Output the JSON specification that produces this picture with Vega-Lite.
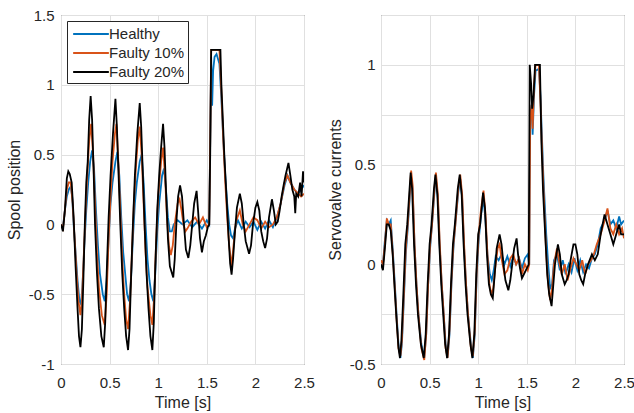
{
"$schema": "https://vega.github.io/schema/vega-lite/v6.json",
"padding": {"left": 5, "top": 7, "right": 5, "bottom": 5},
"background": "white",
"bounds": "flush",
"spacing": 77,
"config": {
  "font": "Liberation Sans",
  "view": {"stroke": "#404040", "strokeWidth": 1},
  "axis": {"grid": true, "gridColor": "#e0e0e0", "gridWidth": 1, "domain": false, "ticks": false, "labelFlush": false, "labelOverlap": false, "labelFont": "Liberation Sans", "labelFontSize": 15, "labelColor": "#262626", "titleFont": "Liberation Sans", "titleFontSize": 16, "titleFontWeight": "normal", "titleColor": "#262626"}
},
"resolve": {"scale": {"y": "independent", "color": "shared"}},
"datasets": {
"spool": [
{"s":"Healthy","t":0,"v":0},{"s":"Healthy","t":0.02,"v":-0.02},{"s":"Healthy","t":0.04,"v":0.1},{"s":"Healthy","t":0.06,"v":0.2},{"s":"Healthy","t":0.08,"v":0.25},{"s":"Healthy","t":0.1,"v":0.27},{"s":"Healthy","t":0.115,"v":0.2},{"s":"Healthy","t":0.13,"v":0},{"s":"Healthy","t":0.15,"v":-0.2},{"s":"Healthy","t":0.17,"v":-0.4},{"s":"Healthy","t":0.19,"v":-0.55},{"s":"Healthy","t":0.205,"v":-0.57},{"s":"Healthy","t":0.22,"v":-0.45},{"s":"Healthy","t":0.24,"v":-0.15},{"s":"Healthy","t":0.26,"v":0.1},{"s":"Healthy","t":0.28,"v":0.3},{"s":"Healthy","t":0.3,"v":0.45},{"s":"Healthy","t":0.32,"v":0.53},{"s":"Healthy","t":0.34,"v":0.4},{"s":"Healthy","t":0.36,"v":0.1},{"s":"Healthy","t":0.38,"v":-0.15},{"s":"Healthy","t":0.4,"v":-0.35},{"s":"Healthy","t":0.43,"v":-0.5},{"s":"Healthy","t":0.45,"v":-0.55},{"s":"Healthy","t":0.47,"v":-0.4},{"s":"Healthy","t":0.49,"v":-0.1},{"s":"Healthy","t":0.51,"v":0.15},{"s":"Healthy","t":0.53,"v":0.3},{"s":"Healthy","t":0.56,"v":0.45},{"s":"Healthy","t":0.58,"v":0.52},{"s":"Healthy","t":0.6,"v":0.35},{"s":"Healthy","t":0.62,"v":0.05},{"s":"Healthy","t":0.64,"v":-0.2},{"s":"Healthy","t":0.66,"v":-0.35},{"s":"Healthy","t":0.68,"v":-0.5},{"s":"Healthy","t":0.7,"v":-0.55},{"s":"Healthy","t":0.72,"v":-0.4},{"s":"Healthy","t":0.74,"v":-0.1},{"s":"Healthy","t":0.76,"v":0.15},{"s":"Healthy","t":0.78,"v":0.3},{"s":"Healthy","t":0.81,"v":0.45},{"s":"Healthy","t":0.83,"v":0.5},{"s":"Healthy","t":0.85,"v":0.3},{"s":"Healthy","t":0.87,"v":0},{"s":"Healthy","t":0.89,"v":-0.25},{"s":"Healthy","t":0.91,"v":-0.4},{"s":"Healthy","t":0.93,"v":-0.5},{"s":"Healthy","t":0.95,"v":-0.55},{"s":"Healthy","t":0.97,"v":-0.35},{"s":"Healthy","t":0.99,"v":-0.05},{"s":"Healthy","t":1.01,"v":0.15},{"s":"Healthy","t":1.04,"v":0.35},{"s":"Healthy","t":1.06,"v":0.4},{"s":"Healthy","t":1.08,"v":0.25},{"s":"Healthy","t":1.1,"v":0.05},{"s":"Healthy","t":1.12,"v":-0.05},{"s":"Healthy","t":1.14,"v":-0.05},{"s":"Healthy","t":1.16,"v":0},{"s":"Healthy","t":1.2,"v":0.03},{"s":"Healthy","t":1.25,"v":0},{"s":"Healthy","t":1.3,"v":0.03},{"s":"Healthy","t":1.35,"v":-0.02},{"s":"Healthy","t":1.4,"v":0.02},{"s":"Healthy","t":1.45,"v":-0.03},{"s":"Healthy","t":1.5,"v":0.03},{"s":"Healthy","t":1.525,"v":0},{"s":"Healthy","t":1.535,"v":0.6},{"s":"Healthy","t":1.545,"v":1.2},{"s":"Healthy","t":1.555,"v":0.85},{"s":"Healthy","t":1.565,"v":1.1},{"s":"Healthy","t":1.58,"v":1.2},{"s":"Healthy","t":1.6,"v":1.22},{"s":"Healthy","t":1.63,"v":1.15},{"s":"Healthy","t":1.65,"v":0.9},{"s":"Healthy","t":1.67,"v":0.6},{"s":"Healthy","t":1.69,"v":0.35},{"s":"Healthy","t":1.71,"v":0.15},{"s":"Healthy","t":1.73,"v":0},{"s":"Healthy","t":1.75,"v":-0.08},{"s":"Healthy","t":1.77,"v":-0.1},{"s":"Healthy","t":1.79,"v":-0.03},{"s":"Healthy","t":1.82,"v":0.03},{"s":"Healthy","t":1.86,"v":-0.03},{"s":"Healthy","t":1.9,"v":0.02},{"s":"Healthy","t":1.94,"v":-0.02},{"s":"Healthy","t":1.98,"v":0.02},{"s":"Healthy","t":2.02,"v":-0.04},{"s":"Healthy","t":2.06,"v":0.02},{"s":"Healthy","t":2.1,"v":-0.03},{"s":"Healthy","t":2.14,"v":0.03},{"s":"Healthy","t":2.18,"v":-0.02},{"s":"Healthy","t":2.22,"v":0.05},{"s":"Healthy","t":2.26,"v":0.15},{"s":"Healthy","t":2.3,"v":0.28},{"s":"Healthy","t":2.33,"v":0.35},{"s":"Healthy","t":2.36,"v":0.3},{"s":"Healthy","t":2.4,"v":0.25},{"s":"Healthy","t":2.44,"v":0.22},{"s":"Healthy","t":2.47,"v":0.25},{"s":"Healthy","t":2.5,"v":0.28},
{"s":"Faulty 10%","t":0,"v":0},{"s":"Faulty 10%","t":0.02,"v":-0.03},{"s":"Faulty 10%","t":0.04,"v":0.1},{"s":"Faulty 10%","t":0.06,"v":0.25},{"s":"Faulty 10%","t":0.08,"v":0.3},{"s":"Faulty 10%","t":0.1,"v":0.3},{"s":"Faulty 10%","t":0.12,"v":0.15},{"s":"Faulty 10%","t":0.14,"v":-0.1},{"s":"Faulty 10%","t":0.16,"v":-0.35},{"s":"Faulty 10%","t":0.18,"v":-0.55},{"s":"Faulty 10%","t":0.2,"v":-0.65},{"s":"Faulty 10%","t":0.215,"v":-0.55},{"s":"Faulty 10%","t":0.23,"v":-0.3},{"s":"Faulty 10%","t":0.25,"v":0.05},{"s":"Faulty 10%","t":0.27,"v":0.35},{"s":"Faulty 10%","t":0.29,"v":0.6},{"s":"Faulty 10%","t":0.31,"v":0.72},{"s":"Faulty 10%","t":0.33,"v":0.5},{"s":"Faulty 10%","t":0.35,"v":0.15},{"s":"Faulty 10%","t":0.37,"v":-0.2},{"s":"Faulty 10%","t":0.39,"v":-0.45},{"s":"Faulty 10%","t":0.42,"v":-0.65},{"s":"Faulty 10%","t":0.45,"v":-0.72},{"s":"Faulty 10%","t":0.47,"v":-0.5},{"s":"Faulty 10%","t":0.49,"v":-0.1},{"s":"Faulty 10%","t":0.51,"v":0.2},{"s":"Faulty 10%","t":0.53,"v":0.45},{"s":"Faulty 10%","t":0.555,"v":0.65},{"s":"Faulty 10%","t":0.57,"v":0.72},{"s":"Faulty 10%","t":0.59,"v":0.45},{"s":"Faulty 10%","t":0.61,"v":0.1},{"s":"Faulty 10%","t":0.63,"v":-0.25},{"s":"Faulty 10%","t":0.65,"v":-0.5},{"s":"Faulty 10%","t":0.67,"v":-0.68},{"s":"Faulty 10%","t":0.69,"v":-0.75},{"s":"Faulty 10%","t":0.71,"v":-0.55},{"s":"Faulty 10%","t":0.73,"v":-0.2},{"s":"Faulty 10%","t":0.75,"v":0.15},{"s":"Faulty 10%","t":0.77,"v":0.4},{"s":"Faulty 10%","t":0.79,"v":0.6},{"s":"Faulty 10%","t":0.81,"v":0.7},{"s":"Faulty 10%","t":0.83,"v":0.5},{"s":"Faulty 10%","t":0.85,"v":0.15},{"s":"Faulty 10%","t":0.87,"v":-0.2},{"s":"Faulty 10%","t":0.89,"v":-0.45},{"s":"Faulty 10%","t":0.92,"v":-0.65},{"s":"Faulty 10%","t":0.94,"v":-0.72},{"s":"Faulty 10%","t":0.96,"v":-0.5},{"s":"Faulty 10%","t":0.98,"v":-0.1},{"s":"Faulty 10%","t":1.0,"v":0.2},{"s":"Faulty 10%","t":1.03,"v":0.45},{"s":"Faulty 10%","t":1.05,"v":0.55},{"s":"Faulty 10%","t":1.07,"v":0.35},{"s":"Faulty 10%","t":1.09,"v":0.05},{"s":"Faulty 10%","t":1.11,"v":-0.15},{"s":"Faulty 10%","t":1.13,"v":-0.22},{"s":"Faulty 10%","t":1.15,"v":-0.15},{"s":"Faulty 10%","t":1.17,"v":0},{"s":"Faulty 10%","t":1.2,"v":0.15},{"s":"Faulty 10%","t":1.22,"v":0.18},{"s":"Faulty 10%","t":1.24,"v":0.1},{"s":"Faulty 10%","t":1.26,"v":0},{"s":"Faulty 10%","t":1.28,"v":-0.05},{"s":"Faulty 10%","t":1.3,"v":-0.03},{"s":"Faulty 10%","t":1.34,"v":0.02},{"s":"Faulty 10%","t":1.38,"v":0.05},{"s":"Faulty 10%","t":1.42,"v":0},{"s":"Faulty 10%","t":1.46,"v":0.05},{"s":"Faulty 10%","t":1.5,"v":-0.02},{"s":"Faulty 10%","t":1.525,"v":0},{"s":"Faulty 10%","t":1.535,"v":0.6},{"s":"Faulty 10%","t":1.545,"v":1.25},{"s":"Faulty 10%","t":1.63,"v":1.25},{"s":"Faulty 10%","t":1.65,"v":0.95},{"s":"Faulty 10%","t":1.67,"v":0.6},{"s":"Faulty 10%","t":1.69,"v":0.3},{"s":"Faulty 10%","t":1.71,"v":0.05},{"s":"Faulty 10%","t":1.73,"v":-0.15},{"s":"Faulty 10%","t":1.755,"v":-0.3},{"s":"Faulty 10%","t":1.775,"v":-0.15},{"s":"Faulty 10%","t":1.8,"v":0.02},{"s":"Faulty 10%","t":1.84,"v":0.1},{"s":"Faulty 10%","t":1.87,"v":0},{"s":"Faulty 10%","t":1.9,"v":-0.05},{"s":"Faulty 10%","t":1.94,"v":0},{"s":"Faulty 10%","t":1.98,"v":0.05},{"s":"Faulty 10%","t":2.02,"v":0.03},{"s":"Faulty 10%","t":2.06,"v":-0.03},{"s":"Faulty 10%","t":2.1,"v":0.02},{"s":"Faulty 10%","t":2.14,"v":-0.02},{"s":"Faulty 10%","t":2.18,"v":0},{"s":"Faulty 10%","t":2.22,"v":0.05},{"s":"Faulty 10%","t":2.26,"v":0.15},{"s":"Faulty 10%","t":2.3,"v":0.3},{"s":"Faulty 10%","t":2.33,"v":0.35},{"s":"Faulty 10%","t":2.36,"v":0.3},{"s":"Faulty 10%","t":2.4,"v":0.25},{"s":"Faulty 10%","t":2.44,"v":0.22},{"s":"Faulty 10%","t":2.47,"v":0.2},{"s":"Faulty 10%","t":2.5,"v":0.22},
{"s":"Faulty 20%","t":0,"v":0},{"s":"Faulty 20%","t":0.02,"v":-0.05},{"s":"Faulty 20%","t":0.04,"v":0.1},{"s":"Faulty 20%","t":0.06,"v":0.33},{"s":"Faulty 20%","t":0.075,"v":0.38},{"s":"Faulty 20%","t":0.09,"v":0.36},{"s":"Faulty 20%","t":0.11,"v":0.3},{"s":"Faulty 20%","t":0.13,"v":0.05},{"s":"Faulty 20%","t":0.15,"v":-0.3},{"s":"Faulty 20%","t":0.17,"v":-0.6},{"s":"Faulty 20%","t":0.185,"v":-0.8},{"s":"Faulty 20%","t":0.2,"v":-0.88},{"s":"Faulty 20%","t":0.215,"v":-0.75},{"s":"Faulty 20%","t":0.23,"v":-0.4},{"s":"Faulty 20%","t":0.245,"v":0},{"s":"Faulty 20%","t":0.26,"v":0.3},{"s":"Faulty 20%","t":0.275,"v":0.45},{"s":"Faulty 20%","t":0.29,"v":0.75},{"s":"Faulty 20%","t":0.305,"v":0.92},{"s":"Faulty 20%","t":0.32,"v":0.75},{"s":"Faulty 20%","t":0.335,"v":0.4},{"s":"Faulty 20%","t":0.35,"v":0},{"s":"Faulty 20%","t":0.37,"v":-0.35},{"s":"Faulty 20%","t":0.39,"v":-0.6},{"s":"Faulty 20%","t":0.415,"v":-0.8},{"s":"Faulty 20%","t":0.44,"v":-0.88},{"s":"Faulty 20%","t":0.455,"v":-0.7},{"s":"Faulty 20%","t":0.47,"v":-0.35},{"s":"Faulty 20%","t":0.49,"v":0.05},{"s":"Faulty 20%","t":0.51,"v":0.35},{"s":"Faulty 20%","t":0.535,"v":0.65},{"s":"Faulty 20%","t":0.56,"v":0.9},{"s":"Faulty 20%","t":0.575,"v":0.7},{"s":"Faulty 20%","t":0.59,"v":0.4},{"s":"Faulty 20%","t":0.61,"v":0},{"s":"Faulty 20%","t":0.63,"v":-0.35},{"s":"Faulty 20%","t":0.65,"v":-0.6},{"s":"Faulty 20%","t":0.67,"v":-0.8},{"s":"Faulty 20%","t":0.69,"v":-0.9},{"s":"Faulty 20%","t":0.705,"v":-0.75},{"s":"Faulty 20%","t":0.72,"v":-0.4},{"s":"Faulty 20%","t":0.74,"v":0},{"s":"Faulty 20%","t":0.76,"v":0.35},{"s":"Faulty 20%","t":0.785,"v":0.65},{"s":"Faulty 20%","t":0.81,"v":0.87},{"s":"Faulty 20%","t":0.825,"v":0.7},{"s":"Faulty 20%","t":0.84,"v":0.4},{"s":"Faulty 20%","t":0.86,"v":0},{"s":"Faulty 20%","t":0.88,"v":-0.35},{"s":"Faulty 20%","t":0.9,"v":-0.6},{"s":"Faulty 20%","t":0.92,"v":-0.8},{"s":"Faulty 20%","t":0.94,"v":-0.9},{"s":"Faulty 20%","t":0.955,"v":-0.7},{"s":"Faulty 20%","t":0.97,"v":-0.3},{"s":"Faulty 20%","t":0.99,"v":0.1},{"s":"Faulty 20%","t":1.01,"v":0.35},{"s":"Faulty 20%","t":1.03,"v":0.55},{"s":"Faulty 20%","t":1.05,"v":0.72},{"s":"Faulty 20%","t":1.065,"v":0.55},{"s":"Faulty 20%","t":1.08,"v":0.25},{"s":"Faulty 20%","t":1.1,"v":-0.1},{"s":"Faulty 20%","t":1.12,"v":-0.3},{"s":"Faulty 20%","t":1.155,"v":-0.38},{"s":"Faulty 20%","t":1.17,"v":-0.25},{"s":"Faulty 20%","t":1.19,"v":0.05},{"s":"Faulty 20%","t":1.205,"v":0.2},{"s":"Faulty 20%","t":1.225,"v":0.28},{"s":"Faulty 20%","t":1.245,"v":0.2},{"s":"Faulty 20%","t":1.265,"v":0},{"s":"Faulty 20%","t":1.285,"v":-0.18},{"s":"Faulty 20%","t":1.31,"v":-0.24},{"s":"Faulty 20%","t":1.33,"v":-0.15},{"s":"Faulty 20%","t":1.35,"v":0},{"s":"Faulty 20%","t":1.37,"v":0.15},{"s":"Faulty 20%","t":1.395,"v":0.24},{"s":"Faulty 20%","t":1.41,"v":0.1},{"s":"Faulty 20%","t":1.43,"v":-0.1},{"s":"Faulty 20%","t":1.45,"v":-0.2},{"s":"Faulty 20%","t":1.47,"v":-0.12},{"s":"Faulty 20%","t":1.49,"v":-0.08},{"s":"Faulty 20%","t":1.51,"v":-0.02},{"s":"Faulty 20%","t":1.525,"v":0},{"s":"Faulty 20%","t":1.535,"v":0.5},{"s":"Faulty 20%","t":1.545,"v":1.25},{"s":"Faulty 20%","t":1.64,"v":1.25},{"s":"Faulty 20%","t":1.65,"v":1.0},{"s":"Faulty 20%","t":1.665,"v":0.75},{"s":"Faulty 20%","t":1.68,"v":0.5},{"s":"Faulty 20%","t":1.695,"v":0.3},{"s":"Faulty 20%","t":1.71,"v":0.1},{"s":"Faulty 20%","t":1.725,"v":-0.1},{"s":"Faulty 20%","t":1.74,"v":-0.28},{"s":"Faulty 20%","t":1.755,"v":-0.36},{"s":"Faulty 20%","t":1.77,"v":-0.25},{"s":"Faulty 20%","t":1.79,"v":-0.05},{"s":"Faulty 20%","t":1.81,"v":0.12},{"s":"Faulty 20%","t":1.84,"v":0.22},{"s":"Faulty 20%","t":1.86,"v":0.15},{"s":"Faulty 20%","t":1.88,"v":0},{"s":"Faulty 20%","t":1.9,"v":-0.12},{"s":"Faulty 20%","t":1.935,"v":-0.21},{"s":"Faulty 20%","t":1.955,"v":-0.15},{"s":"Faulty 20%","t":1.975,"v":0},{"s":"Faulty 20%","t":2.0,"v":0.12},{"s":"Faulty 20%","t":2.02,"v":0.16},{"s":"Faulty 20%","t":2.04,"v":0.1},{"s":"Faulty 20%","t":2.06,"v":-0.05},{"s":"Faulty 20%","t":2.08,"v":-0.12},{"s":"Faulty 20%","t":2.1,"v":-0.17},{"s":"Faulty 20%","t":2.12,"v":-0.1},{"s":"Faulty 20%","t":2.14,"v":0.05},{"s":"Faulty 20%","t":2.17,"v":0.18},{"s":"Faulty 20%","t":2.19,"v":0.1},{"s":"Faulty 20%","t":2.21,"v":0},{"s":"Faulty 20%","t":2.23,"v":0.02},{"s":"Faulty 20%","t":2.25,"v":0.1},{"s":"Faulty 20%","t":2.27,"v":0.2},{"s":"Faulty 20%","t":2.29,"v":0.28},{"s":"Faulty 20%","t":2.31,"v":0.35},{"s":"Faulty 20%","t":2.34,"v":0.44},{"s":"Faulty 20%","t":2.36,"v":0.35},{"s":"Faulty 20%","t":2.38,"v":0.25},{"s":"Faulty 20%","t":2.4,"v":0.2},{"s":"Faulty 20%","t":2.41,"v":0.08},{"s":"Faulty 20%","t":2.42,"v":0.22},{"s":"Faulty 20%","t":2.44,"v":0.2},{"s":"Faulty 20%","t":2.46,"v":0.3},{"s":"Faulty 20%","t":2.475,"v":0.2},{"s":"Faulty 20%","t":2.49,"v":0.38},{"s":"Faulty 20%","t":2.5,"v":0.3}
],
"current": [
{"s":"Healthy","t":0,"v":0.02},{"s":"Healthy","t":0.02,"v":0},{"s":"Healthy","t":0.04,"v":0.12},{"s":"Healthy","t":0.06,"v":0.22},{"s":"Healthy","t":0.08,"v":0.2},{"s":"Healthy","t":0.1,"v":0.22},{"s":"Healthy","t":0.12,"v":0.08},{"s":"Healthy","t":0.14,"v":-0.08},{"s":"Healthy","t":0.16,"v":-0.25},{"s":"Healthy","t":0.18,"v":-0.4},{"s":"Healthy","t":0.2,"v":-0.47},{"s":"Healthy","t":0.215,"v":-0.4},{"s":"Healthy","t":0.235,"v":-0.18},{"s":"Healthy","t":0.255,"v":0.05},{"s":"Healthy","t":0.275,"v":0.18},{"s":"Healthy","t":0.295,"v":0.33},{"s":"Healthy","t":0.31,"v":0.44},{"s":"Healthy","t":0.325,"v":0.38},{"s":"Healthy","t":0.345,"v":0.1},{"s":"Healthy","t":0.365,"v":-0.1},{"s":"Healthy","t":0.385,"v":-0.25},{"s":"Healthy","t":0.415,"v":-0.4},{"s":"Healthy","t":0.445,"v":-0.47},{"s":"Healthy","t":0.465,"v":-0.35},{"s":"Healthy","t":0.485,"v":-0.1},{"s":"Healthy","t":0.505,"v":0.08},{"s":"Healthy","t":0.525,"v":0.2},{"s":"Healthy","t":0.55,"v":0.36},{"s":"Healthy","t":0.565,"v":0.44},{"s":"Healthy","t":0.585,"v":0.33},{"s":"Healthy","t":0.605,"v":0.08},{"s":"Healthy","t":0.625,"v":-0.1},{"s":"Healthy","t":0.645,"v":-0.25},{"s":"Healthy","t":0.665,"v":-0.4},{"s":"Healthy","t":0.685,"v":-0.47},{"s":"Healthy","t":0.705,"v":-0.35},{"s":"Healthy","t":0.725,"v":-0.1},{"s":"Healthy","t":0.745,"v":0.08},{"s":"Healthy","t":0.765,"v":0.2},{"s":"Healthy","t":0.795,"v":0.36},{"s":"Healthy","t":0.815,"v":0.43},{"s":"Healthy","t":0.835,"v":0.33},{"s":"Healthy","t":0.855,"v":0.08},{"s":"Healthy","t":0.875,"v":-0.1},{"s":"Healthy","t":0.895,"v":-0.25},{"s":"Healthy","t":0.925,"v":-0.4},{"s":"Healthy","t":0.945,"v":-0.47},{"s":"Healthy","t":0.965,"v":-0.35},{"s":"Healthy","t":0.985,"v":-0.05},{"s":"Healthy","t":1.005,"v":0.12},{"s":"Healthy","t":1.03,"v":0.25},{"s":"Healthy","t":1.055,"v":0.33},{"s":"Healthy","t":1.075,"v":0.22},{"s":"Healthy","t":1.095,"v":0.05},{"s":"Healthy","t":1.12,"v":-0.05},{"s":"Healthy","t":1.14,"v":-0.08},{"s":"Healthy","t":1.16,"v":-0.03},{"s":"Healthy","t":1.18,"v":0.04},{"s":"Healthy","t":1.21,"v":0.02},{"s":"Healthy","t":1.24,"v":0.05},{"s":"Healthy","t":1.27,"v":0},{"s":"Healthy","t":1.3,"v":0.04},{"s":"Healthy","t":1.33,"v":-0.01},{"s":"Healthy","t":1.36,"v":0.04},{"s":"Healthy","t":1.39,"v":0},{"s":"Healthy","t":1.42,"v":0.03},{"s":"Healthy","t":1.45,"v":-0.02},{"s":"Healthy","t":1.48,"v":0.03},{"s":"Healthy","t":1.51,"v":0.05},{"s":"Healthy","t":1.525,"v":0},{"s":"Healthy","t":1.535,"v":0.75},{"s":"Healthy","t":1.55,"v":0.8},{"s":"Healthy","t":1.56,"v":0.65},{"s":"Healthy","t":1.575,"v":0.85},{"s":"Healthy","t":1.59,"v":0.97},{"s":"Healthy","t":1.625,"v":0.98},{"s":"Healthy","t":1.64,"v":0.85},{"s":"Healthy","t":1.655,"v":0.65},{"s":"Healthy","t":1.67,"v":0.45},{"s":"Healthy","t":1.685,"v":0.3},{"s":"Healthy","t":1.7,"v":0.15},{"s":"Healthy","t":1.72,"v":0},{"s":"Healthy","t":1.74,"v":-0.12},{"s":"Healthy","t":1.76,"v":-0.1},{"s":"Healthy","t":1.78,"v":0.02},{"s":"Healthy","t":1.81,"v":0.05},{"s":"Healthy","t":1.84,"v":-0.03},{"s":"Healthy","t":1.87,"v":0.02},{"s":"Healthy","t":1.9,"v":-0.05},{"s":"Healthy","t":1.93,"v":0},{"s":"Healthy","t":1.96,"v":-0.04},{"s":"Healthy","t":1.99,"v":0.03},{"s":"Healthy","t":2.02,"v":-0.03},{"s":"Healthy","t":2.05,"v":0.02},{"s":"Healthy","t":2.08,"v":-0.04},{"s":"Healthy","t":2.11,"v":0},{"s":"Healthy","t":2.14,"v":-0.02},{"s":"Healthy","t":2.17,"v":0.03},{"s":"Healthy","t":2.2,"v":0.05},{"s":"Healthy","t":2.23,"v":0.1},{"s":"Healthy","t":2.26,"v":0.18},{"s":"Healthy","t":2.3,"v":0.22},{"s":"Healthy","t":2.33,"v":0.27},{"s":"Healthy","t":2.36,"v":0.2},{"s":"Healthy","t":2.39,"v":0.22},{"s":"Healthy","t":2.42,"v":0.18},{"s":"Healthy","t":2.45,"v":0.24},{"s":"Healthy","t":2.47,"v":0.2},{"s":"Healthy","t":2.5,"v":0.22},
{"s":"Faulty 10%","t":0,"v":0.02},{"s":"Faulty 10%","t":0.02,"v":0},{"s":"Faulty 10%","t":0.04,"v":0.1},{"s":"Faulty 10%","t":0.06,"v":0.23},{"s":"Faulty 10%","t":0.08,"v":0.2},{"s":"Faulty 10%","t":0.1,"v":0.2},{"s":"Faulty 10%","t":0.12,"v":0.06},{"s":"Faulty 10%","t":0.14,"v":-0.1},{"s":"Faulty 10%","t":0.16,"v":-0.27},{"s":"Faulty 10%","t":0.18,"v":-0.42},{"s":"Faulty 10%","t":0.2,"v":-0.46},{"s":"Faulty 10%","t":0.215,"v":-0.38},{"s":"Faulty 10%","t":0.235,"v":-0.15},{"s":"Faulty 10%","t":0.255,"v":0.08},{"s":"Faulty 10%","t":0.275,"v":0.2},{"s":"Faulty 10%","t":0.295,"v":0.35},{"s":"Faulty 10%","t":0.31,"v":0.47},{"s":"Faulty 10%","t":0.325,"v":0.4},{"s":"Faulty 10%","t":0.345,"v":0.1},{"s":"Faulty 10%","t":0.365,"v":-0.1},{"s":"Faulty 10%","t":0.385,"v":-0.25},{"s":"Faulty 10%","t":0.415,"v":-0.42},{"s":"Faulty 10%","t":0.445,"v":-0.48},{"s":"Faulty 10%","t":0.465,"v":-0.35},{"s":"Faulty 10%","t":0.485,"v":-0.1},{"s":"Faulty 10%","t":0.505,"v":0.1},{"s":"Faulty 10%","t":0.525,"v":0.2},{"s":"Faulty 10%","t":0.55,"v":0.38},{"s":"Faulty 10%","t":0.565,"v":0.46},{"s":"Faulty 10%","t":0.585,"v":0.35},{"s":"Faulty 10%","t":0.605,"v":0.1},{"s":"Faulty 10%","t":0.625,"v":-0.1},{"s":"Faulty 10%","t":0.645,"v":-0.25},{"s":"Faulty 10%","t":0.665,"v":-0.42},{"s":"Faulty 10%","t":0.685,"v":-0.47},{"s":"Faulty 10%","t":0.705,"v":-0.33},{"s":"Faulty 10%","t":0.725,"v":-0.08},{"s":"Faulty 10%","t":0.745,"v":0.1},{"s":"Faulty 10%","t":0.765,"v":0.2},{"s":"Faulty 10%","t":0.795,"v":0.38},{"s":"Faulty 10%","t":0.815,"v":0.45},{"s":"Faulty 10%","t":0.835,"v":0.35},{"s":"Faulty 10%","t":0.855,"v":0.1},{"s":"Faulty 10%","t":0.875,"v":-0.1},{"s":"Faulty 10%","t":0.895,"v":-0.25},{"s":"Faulty 10%","t":0.925,"v":-0.42},{"s":"Faulty 10%","t":0.945,"v":-0.46},{"s":"Faulty 10%","t":0.965,"v":-0.33},{"s":"Faulty 10%","t":0.985,"v":-0.03},{"s":"Faulty 10%","t":1.005,"v":0.15},{"s":"Faulty 10%","t":1.03,"v":0.28},{"s":"Faulty 10%","t":1.055,"v":0.37},{"s":"Faulty 10%","t":1.075,"v":0.25},{"s":"Faulty 10%","t":1.095,"v":0.05},{"s":"Faulty 10%","t":1.115,"v":-0.1},{"s":"Faulty 10%","t":1.135,"v":-0.15},{"s":"Faulty 10%","t":1.155,"v":-0.12},{"s":"Faulty 10%","t":1.175,"v":-0.02},{"s":"Faulty 10%","t":1.2,"v":0.08},{"s":"Faulty 10%","t":1.22,"v":0.1},{"s":"Faulty 10%","t":1.24,"v":0.03},{"s":"Faulty 10%","t":1.27,"v":-0.05},{"s":"Faulty 10%","t":1.3,"v":-0.03},{"s":"Faulty 10%","t":1.33,"v":0.03},{"s":"Faulty 10%","t":1.36,"v":0.05},{"s":"Faulty 10%","t":1.39,"v":0},{"s":"Faulty 10%","t":1.42,"v":0.03},{"s":"Faulty 10%","t":1.45,"v":-0.05},{"s":"Faulty 10%","t":1.48,"v":0},{"s":"Faulty 10%","t":1.51,"v":-0.03},{"s":"Faulty 10%","t":1.525,"v":0},{"s":"Faulty 10%","t":1.535,"v":0.72},{"s":"Faulty 10%","t":1.55,"v":0.8},{"s":"Faulty 10%","t":1.56,"v":0.68},{"s":"Faulty 10%","t":1.575,"v":0.9},{"s":"Faulty 10%","t":1.59,"v":1.0},{"s":"Faulty 10%","t":1.625,"v":1.0},{"s":"Faulty 10%","t":1.64,"v":0.82},{"s":"Faulty 10%","t":1.655,"v":0.6},{"s":"Faulty 10%","t":1.67,"v":0.4},{"s":"Faulty 10%","t":1.685,"v":0.22},{"s":"Faulty 10%","t":1.7,"v":0.05},{"s":"Faulty 10%","t":1.72,"v":-0.1},{"s":"Faulty 10%","t":1.74,"v":-0.18},{"s":"Faulty 10%","t":1.76,"v":-0.12},{"s":"Faulty 10%","t":1.78,"v":0},{"s":"Faulty 10%","t":1.81,"v":0.08},{"s":"Faulty 10%","t":1.83,"v":0.02},{"s":"Faulty 10%","t":1.86,"v":-0.05},{"s":"Faulty 10%","t":1.89,"v":0},{"s":"Faulty 10%","t":1.92,"v":-0.08},{"s":"Faulty 10%","t":1.95,"v":-0.02},{"s":"Faulty 10%","t":1.98,"v":0.03},{"s":"Faulty 10%","t":2.01,"v":0},{"s":"Faulty 10%","t":2.04,"v":-0.03},{"s":"Faulty 10%","t":2.07,"v":0.02},{"s":"Faulty 10%","t":2.1,"v":-0.05},{"s":"Faulty 10%","t":2.13,"v":0},{"s":"Faulty 10%","t":2.16,"v":0.02},{"s":"Faulty 10%","t":2.19,"v":0.05},{"s":"Faulty 10%","t":2.22,"v":0.1},{"s":"Faulty 10%","t":2.26,"v":0.15},{"s":"Faulty 10%","t":2.3,"v":0.22},{"s":"Faulty 10%","t":2.33,"v":0.28},{"s":"Faulty 10%","t":2.36,"v":0.18},{"s":"Faulty 10%","t":2.39,"v":0.15},{"s":"Faulty 10%","t":2.42,"v":0.2},{"s":"Faulty 10%","t":2.45,"v":0.15},{"s":"Faulty 10%","t":2.48,"v":0.18},{"s":"Faulty 10%","t":2.5,"v":0.13},
{"s":"Faulty 20%","t":0,"v":0},{"s":"Faulty 20%","t":0.02,"v":-0.03},{"s":"Faulty 20%","t":0.04,"v":0.08},{"s":"Faulty 20%","t":0.06,"v":0.2},{"s":"Faulty 20%","t":0.08,"v":0.2},{"s":"Faulty 20%","t":0.1,"v":0.17},{"s":"Faulty 20%","t":0.12,"v":0.05},{"s":"Faulty 20%","t":0.14,"v":-0.12},{"s":"Faulty 20%","t":0.16,"v":-0.28},{"s":"Faulty 20%","t":0.18,"v":-0.42},{"s":"Faulty 20%","t":0.195,"v":-0.47},{"s":"Faulty 20%","t":0.21,"v":-0.38},{"s":"Faulty 20%","t":0.23,"v":-0.15},{"s":"Faulty 20%","t":0.25,"v":0.1},{"s":"Faulty 20%","t":0.27,"v":0.2},{"s":"Faulty 20%","t":0.29,"v":0.35},{"s":"Faulty 20%","t":0.305,"v":0.46},{"s":"Faulty 20%","t":0.32,"v":0.38},{"s":"Faulty 20%","t":0.34,"v":0.1},{"s":"Faulty 20%","t":0.36,"v":-0.1},{"s":"Faulty 20%","t":0.38,"v":-0.25},{"s":"Faulty 20%","t":0.41,"v":-0.4},{"s":"Faulty 20%","t":0.44,"v":-0.47},{"s":"Faulty 20%","t":0.46,"v":-0.35},{"s":"Faulty 20%","t":0.48,"v":-0.1},{"s":"Faulty 20%","t":0.5,"v":0.1},{"s":"Faulty 20%","t":0.52,"v":0.2},{"s":"Faulty 20%","t":0.545,"v":0.38},{"s":"Faulty 20%","t":0.56,"v":0.45},{"s":"Faulty 20%","t":0.58,"v":0.35},{"s":"Faulty 20%","t":0.6,"v":0.1},{"s":"Faulty 20%","t":0.62,"v":-0.1},{"s":"Faulty 20%","t":0.64,"v":-0.25},{"s":"Faulty 20%","t":0.66,"v":-0.4},{"s":"Faulty 20%","t":0.68,"v":-0.47},{"s":"Faulty 20%","t":0.7,"v":-0.35},{"s":"Faulty 20%","t":0.72,"v":-0.1},{"s":"Faulty 20%","t":0.74,"v":0.1},{"s":"Faulty 20%","t":0.76,"v":0.2},{"s":"Faulty 20%","t":0.79,"v":0.38},{"s":"Faulty 20%","t":0.81,"v":0.45},{"s":"Faulty 20%","t":0.83,"v":0.35},{"s":"Faulty 20%","t":0.85,"v":0.1},{"s":"Faulty 20%","t":0.87,"v":-0.1},{"s":"Faulty 20%","t":0.89,"v":-0.25},{"s":"Faulty 20%","t":0.92,"v":-0.4},{"s":"Faulty 20%","t":0.94,"v":-0.47},{"s":"Faulty 20%","t":0.96,"v":-0.35},{"s":"Faulty 20%","t":0.98,"v":-0.05},{"s":"Faulty 20%","t":1.0,"v":0.15},{"s":"Faulty 20%","t":1.02,"v":0.2},{"s":"Faulty 20%","t":1.05,"v":0.36},{"s":"Faulty 20%","t":1.07,"v":0.28},{"s":"Faulty 20%","t":1.09,"v":0.05},{"s":"Faulty 20%","t":1.11,"v":-0.1},{"s":"Faulty 20%","t":1.13,"v":-0.15},{"s":"Faulty 20%","t":1.15,"v":-0.17},{"s":"Faulty 20%","t":1.17,"v":-0.05},{"s":"Faulty 20%","t":1.19,"v":0.08},{"s":"Faulty 20%","t":1.22,"v":0.15},{"s":"Faulty 20%","t":1.24,"v":0.1},{"s":"Faulty 20%","t":1.26,"v":0},{"s":"Faulty 20%","t":1.28,"v":-0.08},{"s":"Faulty 20%","t":1.31,"v":-0.13},{"s":"Faulty 20%","t":1.33,"v":-0.08},{"s":"Faulty 20%","t":1.35,"v":0},{"s":"Faulty 20%","t":1.37,"v":0.08},{"s":"Faulty 20%","t":1.395,"v":0.13},{"s":"Faulty 20%","t":1.41,"v":0.05},{"s":"Faulty 20%","t":1.43,"v":-0.02},{"s":"Faulty 20%","t":1.45,"v":-0.07},{"s":"Faulty 20%","t":1.47,"v":-0.05},{"s":"Faulty 20%","t":1.5,"v":-0.02},{"s":"Faulty 20%","t":1.52,"v":0},{"s":"Faulty 20%","t":1.53,"v":1.0},{"s":"Faulty 20%","t":1.545,"v":0.9},{"s":"Faulty 20%","t":1.555,"v":0.78},{"s":"Faulty 20%","t":1.57,"v":0.85},{"s":"Faulty 20%","t":1.585,"v":1.0},{"s":"Faulty 20%","t":1.635,"v":1.0},{"s":"Faulty 20%","t":1.65,"v":0.62},{"s":"Faulty 20%","t":1.667,"v":0.37},{"s":"Faulty 20%","t":1.685,"v":0.19},{"s":"Faulty 20%","t":1.71,"v":-0.05},{"s":"Faulty 20%","t":1.73,"v":-0.15},{"s":"Faulty 20%","t":1.755,"v":-0.21},{"s":"Faulty 20%","t":1.77,"v":-0.12},{"s":"Faulty 20%","t":1.79,"v":0},{"s":"Faulty 20%","t":1.82,"v":0.1},{"s":"Faulty 20%","t":1.84,"v":0.05},{"s":"Faulty 20%","t":1.86,"v":-0.05},{"s":"Faulty 20%","t":1.89,"v":-0.1},{"s":"Faulty 20%","t":1.91,"v":-0.08},{"s":"Faulty 20%","t":1.93,"v":-0.05},{"s":"Faulty 20%","t":1.95,"v":0.02},{"s":"Faulty 20%","t":1.98,"v":0.1},{"s":"Faulty 20%","t":2.0,"v":0.1},{"s":"Faulty 20%","t":2.02,"v":0.05},{"s":"Faulty 20%","t":2.04,"v":-0.05},{"s":"Faulty 20%","t":2.06,"v":-0.08},{"s":"Faulty 20%","t":2.08,"v":-0.1},{"s":"Faulty 20%","t":2.1,"v":-0.05},{"s":"Faulty 20%","t":2.13,"v":0},{"s":"Faulty 20%","t":2.17,"v":0.05},{"s":"Faulty 20%","t":2.2,"v":0.02},{"s":"Faulty 20%","t":2.23,"v":0.05},{"s":"Faulty 20%","t":2.26,"v":0.15},{"s":"Faulty 20%","t":2.3,"v":0.25},{"s":"Faulty 20%","t":2.33,"v":0.2},{"s":"Faulty 20%","t":2.36,"v":0.15},{"s":"Faulty 20%","t":2.39,"v":0.1},{"s":"Faulty 20%","t":2.42,"v":0.15},{"s":"Faulty 20%","t":2.45,"v":0.2},{"s":"Faulty 20%","t":2.47,"v":0.15},{"s":"Faulty 20%","t":2.5,"v":0.15}
]
},
"hconcat": [
{
  "width": 243, "height": 349,
  "data": {"name": "spool"},
  "mark": {"type": "line", "strokeWidth": 1.8, "clip": true},
  "encoding": {
    "x": {"field": "t", "type": "quantitative", "scale": {"domain": [0, 2.5], "nice": false, "zero": false},
      "axis": {"values": [0, 0.5, 1, 1.5, 2, 2.5], "labelExpr": "'' + datum.value", "title": "Time [s]", "labelPadding": 11, "titlePadding": 4}},
    "y": {"field": "v", "type": "quantitative", "scale": {"domain": [-1, 1.5], "nice": false, "zero": false},
      "axis": {"values": [-1, -0.5, 0, 0.5, 1, 1.5], "labelExpr": "'' + datum.value", "title": "Spool position", "labelPadding": 7, "titlePadding": 6}},
    "color": {"field": "s", "type": "nominal", "sort": null,
      "scale": {"domain": ["Healthy", "Faulty 10%", "Faulty 20%"], "range": ["#0072BD", "#D95319", "#000000"]},
      "legend": {"orient": "top-left", "offset": 6, "title": null, "fillColor": "white", "strokeColor": "#262626", "padding": 3, "symbolType": "M-2.1,0H2.1", "symbolSize": 289, "symbolStrokeWidth": 2.2, "symbolOffset": 11, "labelOffset": 8, "rowPadding": 1, "labelFont": "Liberation Sans", "labelFontSize": 15, "labelColor": "#262626"}}
  }
},
{
  "width": 243, "height": 349,
  "data": {"name": "current"},
  "mark": {"type": "line", "strokeWidth": 1.8, "clip": true},
  "encoding": {
    "x": {"field": "t", "type": "quantitative", "scale": {"domain": [0, 2.5], "nice": false, "zero": false},
      "axis": {"values": [0, 0.5, 1, 1.5, 2, 2.5], "labelExpr": "'' + datum.value", "title": "Time [s]", "labelPadding": 11, "titlePadding": 4}},
    "y": {"field": "v", "type": "quantitative", "scale": {"domain": [-0.5, 1.25], "nice": false, "zero": false},
      "axis": {"values": [-0.5, -0.25, 0, 0.25, 0.5, 0.75, 1, 1.25], "labelExpr": "(datum.value * 2) % 1 == 0 ? '' + datum.value : ''", "title": "Servovalve currents", "labelPadding": 6, "titlePadding": 6}},
    "color": {"field": "s", "type": "nominal", "sort": null,
      "scale": {"domain": ["Healthy", "Faulty 10%", "Faulty 20%"], "range": ["#0072BD", "#D95319", "#000000"]},
      "legend": null}
  }
}
]
}
